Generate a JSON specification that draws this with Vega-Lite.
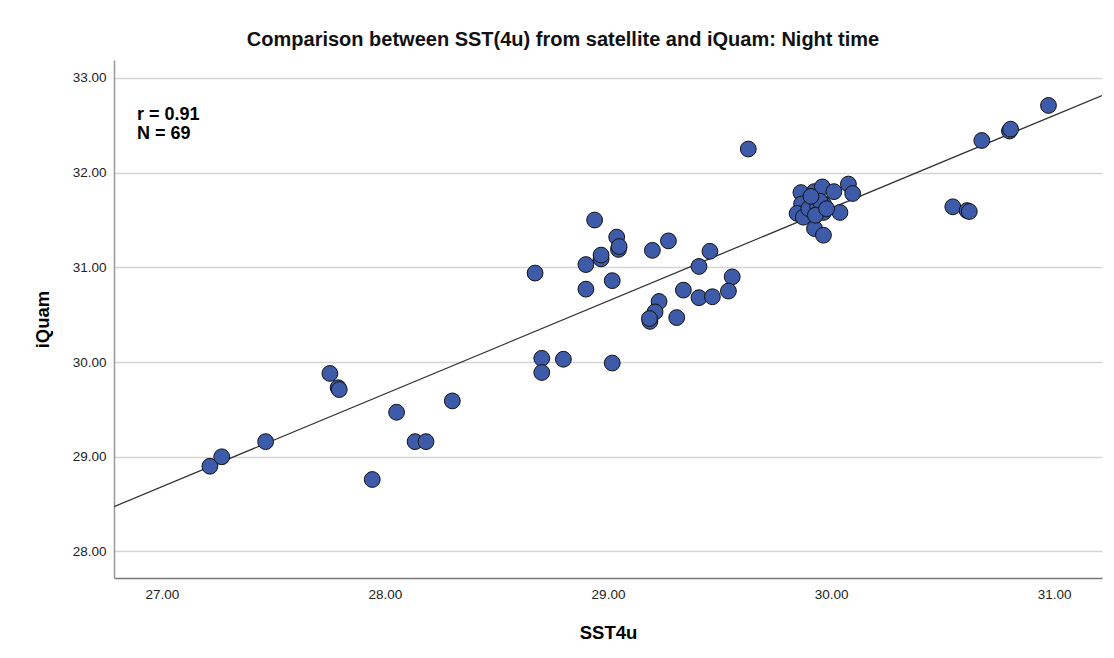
{
  "$schema": "https://vega.github.io/schema/vega-lite/v6.json",
  "autosize": "none",
  "width": 988,
  "height": 518,
  "padding": {"left": 114, "top": 60, "right": 12, "bottom": 80},
  "background": "white",
  "config": {
    "font": "Liberation Sans",
    "view": {"stroke": null},
    "axis": {"labelFont": "Liberation Sans", "titleFont": "Liberation Sans"}
  },
  "title": {
    "text": "Comparison between SST(4u) from satellite and iQuam: Night time",
    "anchor": "middle",
    "frame": "group",
    "dx": -45,
    "offset": 10,
    "fontSize": 20,
    "fontWeight": 600,
    "color": "#111111",
    "font": "Liberation Sans"
  },
  "datasets": {
    "points": [
      {"SST4u": 27.215, "iQuam": 28.90},
      {"SST4u": 27.268, "iQuam": 29.00},
      {"SST4u": 27.465, "iQuam": 29.16},
      {"SST4u": 27.753, "iQuam": 29.88},
      {"SST4u": 27.790, "iQuam": 29.73},
      {"SST4u": 27.795, "iQuam": 29.71},
      {"SST4u": 28.052, "iQuam": 29.47},
      {"SST4u": 28.302, "iQuam": 29.59},
      {"SST4u": 28.135, "iQuam": 29.16},
      {"SST4u": 28.184, "iQuam": 29.16},
      {"SST4u": 27.943, "iQuam": 28.76},
      {"SST4u": 28.703, "iQuam": 30.04},
      {"SST4u": 28.800, "iQuam": 30.03},
      {"SST4u": 28.703, "iQuam": 29.89},
      {"SST4u": 29.019, "iQuam": 29.99},
      {"SST4u": 28.673, "iQuam": 30.94},
      {"SST4u": 28.901, "iQuam": 30.77},
      {"SST4u": 29.019, "iQuam": 30.86},
      {"SST4u": 28.901, "iQuam": 31.03},
      {"SST4u": 28.969, "iQuam": 31.09},
      {"SST4u": 28.969, "iQuam": 31.13},
      {"SST4u": 29.039, "iQuam": 31.32},
      {"SST4u": 29.047, "iQuam": 31.19},
      {"SST4u": 29.050, "iQuam": 31.22},
      {"SST4u": 28.940, "iQuam": 31.50},
      {"SST4u": 29.199, "iQuam": 31.18},
      {"SST4u": 29.271, "iQuam": 31.28},
      {"SST4u": 29.408, "iQuam": 31.01},
      {"SST4u": 29.457, "iQuam": 31.17},
      {"SST4u": 29.557, "iQuam": 30.90},
      {"SST4u": 29.540, "iQuam": 30.75},
      {"SST4u": 29.338, "iQuam": 30.76},
      {"SST4u": 29.408, "iQuam": 30.68},
      {"SST4u": 29.468, "iQuam": 30.69},
      {"SST4u": 29.229, "iQuam": 30.64},
      {"SST4u": 29.211, "iQuam": 30.53},
      {"SST4u": 29.188, "iQuam": 30.43},
      {"SST4u": 29.186, "iQuam": 30.46},
      {"SST4u": 29.308, "iQuam": 30.47},
      {"SST4u": 29.629, "iQuam": 32.25},
      {"SST4u": 29.865, "iQuam": 31.79},
      {"SST4u": 29.925, "iQuam": 31.80},
      {"SST4u": 29.961, "iQuam": 31.85},
      {"SST4u": 30.013, "iQuam": 31.80},
      {"SST4u": 30.078, "iQuam": 31.88},
      {"SST4u": 30.097, "iQuam": 31.78},
      {"SST4u": 29.868, "iQuam": 31.67},
      {"SST4u": 29.966, "iQuam": 31.67},
      {"SST4u": 29.848, "iQuam": 31.57},
      {"SST4u": 29.876, "iQuam": 31.53},
      {"SST4u": 29.928, "iQuam": 31.60},
      {"SST4u": 29.924, "iQuam": 31.67},
      {"SST4u": 29.966, "iQuam": 31.58},
      {"SST4u": 30.040, "iQuam": 31.58},
      {"SST4u": 29.926, "iQuam": 31.41},
      {"SST4u": 29.966, "iQuam": 31.34},
      {"SST4u": 29.900, "iQuam": 31.62},
      {"SST4u": 29.940, "iQuam": 31.64},
      {"SST4u": 29.950, "iQuam": 31.70},
      {"SST4u": 29.910, "iQuam": 31.75},
      {"SST4u": 29.930, "iQuam": 31.55},
      {"SST4u": 29.980, "iQuam": 31.62},
      {"SST4u": 30.546, "iQuam": 31.64},
      {"SST4u": 30.610, "iQuam": 31.60},
      {"SST4u": 30.620, "iQuam": 31.59},
      {"SST4u": 30.676, "iQuam": 32.34},
      {"SST4u": 30.800, "iQuam": 32.44},
      {"SST4u": 30.805, "iQuam": 32.46},
      {"SST4u": 30.975, "iQuam": 32.71}
    ],
    "fit": [
      {"SST4u": 26.785, "iQuam": 28.474},
      {"SST4u": 31.215, "iQuam": 32.815}
    ],
    "stats": [
      {"SST4u": 26.888, "iQuam": 32.61, "label": "r = 0.91"},
      {"SST4u": 26.888, "iQuam": 32.41, "label": "N = 69"}
    ]
  },
  "layer": [
    {
      "data": {"name": "fit"},
      "mark": {"type": "line", "color": "#333333", "strokeWidth": 1.3, "clip": true},
      "encoding": {
        "x": {
          "field": "SST4u", "type": "quantitative",
          "scale": {"domain": [26.785, 31.215], "nice": false, "zero": false},
          "axis": {
            "title": "SST4u", "values": [27, 28, 29, 30, 31], "format": ".2f",
            "grid": false, "ticks": false, "labelPadding": 9,
            "labelFontSize": 13.5, "labelColor": "#222222",
            "domainColor": "#777777", "domainWidth": 1.5,
            "titleFontSize": 18.5, "titleFontWeight": "bold", "titleColor": "#000000",
            "titlePadding": 23
          }
        },
        "y": {
          "field": "iQuam", "type": "quantitative",
          "scale": {"domain": [27.72, 33.19], "nice": false, "zero": false},
          "axis": {
            "title": "iQuam", "values": [28, 29, 30, 31, 32, 33], "format": ".2f",
            "grid": true, "gridColor": "#d4d4d4", "gridWidth": 1.5,
            "ticks": false, "labelPadding": 8,
            "labelFontSize": 13.5, "labelColor": "#222222",
            "domainColor": "#999999", "domainWidth": 1.5,
            "titleFontSize": 18.5, "titleFontWeight": "bold", "titleColor": "#000000",
            "titlePadding": 20
          }
        }
      }
    },
    {
      "data": {"name": "points"},
      "mark": {"type": "point", "shape": "circle", "filled": true, "fill": "#3E5BA9", "stroke": "#111111", "strokeWidth": 1, "opacity": 1, "size": 250},
      "encoding": {
        "x": {"field": "SST4u", "type": "quantitative"},
        "y": {"field": "iQuam", "type": "quantitative"}
      }
    },
    {
      "data": {"name": "stats"},
      "mark": {"type": "text", "align": "left", "baseline": "middle", "fontSize": 18, "fontWeight": "bold", "color": "#000000", "font": "Liberation Sans"},
      "encoding": {
        "x": {"field": "SST4u", "type": "quantitative"},
        "y": {"field": "iQuam", "type": "quantitative"},
        "text": {"field": "label"}
      }
    }
  ]
}
